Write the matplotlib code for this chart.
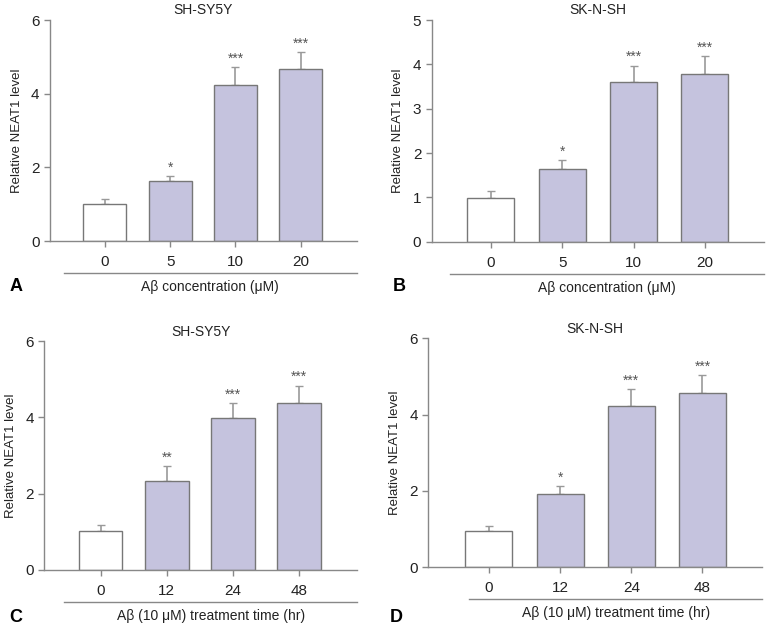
import matplotlib
matplotlib.use("Agg")
import matplotlib.pyplot as plt
from matplotlib.transforms import blended_transform_factory, ScaledTranslation

plt.rcParams['font.family'] = ['Liberation Sans Narrow', 'Liberation Sans', 'DejaVu Sans']

# data
conc_labels = ["0", "5", "10", "20"]
time_labels = ["0", "12", "24", "48"]

a_means = [1.00, 1.62, 4.23, 4.67]
a_errs = [0.13, 0.14, 0.49, 0.46]
a_stars = ["", "*", "***", "***"]

b_means = [0.98, 1.64, 3.60, 3.78]
b_errs = [0.16, 0.20, 0.37, 0.40]
b_stars = ["", "*", "***", "***"]

c_means = [1.01, 2.32, 3.98, 4.37]
c_errs = [0.16, 0.40, 0.39, 0.46]
c_stars = ["", "**", "***", "***"]

d_means = [0.96, 1.91, 4.22, 4.56]
d_errs = [0.12, 0.21, 0.44, 0.47]
d_stars = ["", "*", "***", "***"]

titles = ["SH-SY5Y", "SK-N-SH", "SH-SY5Y", "SK-N-SH"]
xlabels = ["Aβ concentration (μM)", "Aβ concentration (μM)",
           "Aβ (10 μM) treatment time (hr)", "Aβ (10 μM) treatment time (hr)"]
letters = ["A", "B", "C", "D"]

fill = "#c5c3de"
edge = "#777777"
grey = "#888888"

fig = plt.figure(figsize=(7.68, 6.28), dpi=100)

# [left, bottom, width, height], ylim top, yticks, xlim, start of underline
panels = [
    ([0.0651, 0.6162, 0.3997, 0.3519], 6, [0, 2, 4, 6], (-0.84, 3.86), -0.63, a_means, a_errs, a_stars, conc_labels),
    ([0.5621, 0.6151, 0.4327, 0.3530], 5, [0, 1, 2, 3, 4, 5], (-0.83, 3.83), -0.57, b_means, b_errs, b_stars, conc_labels),
    ([0.0577, 0.0928, 0.4076, 0.3637], 6, [0, 2, 4, 6], (-0.85, 3.88), -0.55, c_means, c_errs, c_stars, time_labels),
    ([0.5577, 0.0967, 0.4349, 0.3646], 6, [0, 2, 4, 6], (-0.85, 3.84), -0.28, d_means, d_errs, d_stars, time_labels),
]
letter_pos = [(0.012, 0.543), (0.512, 0.543), (0.012, 0.016), (0.507, 0.016)]

for i, (rect, ytop, yticks, xlim, line_x0, means, errs, stars, labels) in enumerate(panels):
    ax = fig.add_axes(rect)
    x = list(range(len(means)))
    colors = ["white"] + [fill] * (len(means) - 1)
    ax.bar(x, means, width=0.66, color=colors, edgecolor=edge, linewidth=1.0, zorder=2,
           yerr=[[0] * len(errs), errs], error_kw=dict(ecolor="#999999", elinewidth=1.2,
                                                        capsize=3, capthick=1.0, zorder=1))
    for xi, m, e, s in zip(x, means, errs, stars):
        if s:
            ax.text(xi, m + e + ytop * 0.008, s, ha="center", va="bottom", fontsize=10,
                    color="#555555")
    ax.set_xlim(*xlim)
    ax.set_ylim(0, ytop)
    ax.set_yticks(yticks)
    ax.set_xticks(x)
    ax.set_xticklabels(labels)
    for side in ["top", "right"]:
        ax.spines[side].set_visible(False)
    for side in ["left", "bottom"]:
        ax.spines[side].set_color(grey)
        ax.spines[side].set_linewidth(1.0)
    ax.tick_params(axis="both", colors=grey, length=4, width=1.0, labelsize=11,
                   labelcolor="#222222")
    ax.tick_params(axis="x", pad=6)
    ax.set_ylabel("Relative NEAT1 level", fontsize=9.5, color="#222222", labelpad=6)
    ax.set_title(titles[i], fontsize=10, color="#222222", pad=4)

    # second line below the tick labels with the x label under it
    trans = blended_transform_factory(ax.transData, ax.transAxes) + \
        ScaledTranslation(0, -0.32, fig.dpi_scale_trans)
    ax.plot([line_x0, xlim[1]], [0, 0], transform=trans, clip_on=False, color=grey, linewidth=1.0)
    trans2 = blended_transform_factory(ax.transData, ax.transAxes) + \
        ScaledTranslation(0, -0.46, fig.dpi_scale_trans)
    ax.text((line_x0 + xlim[1]) / 2, 0, xlabels[i], transform=trans2, ha="center", va="center",
            fontsize=10, color="#222222")

    fig.text(letter_pos[i][0], letter_pos[i][1], letters[i], fontsize=13, fontweight="bold",
             family=["Liberation Sans", "DejaVu Sans"], va="center")

fig.savefig("out.png", dpi=100)
